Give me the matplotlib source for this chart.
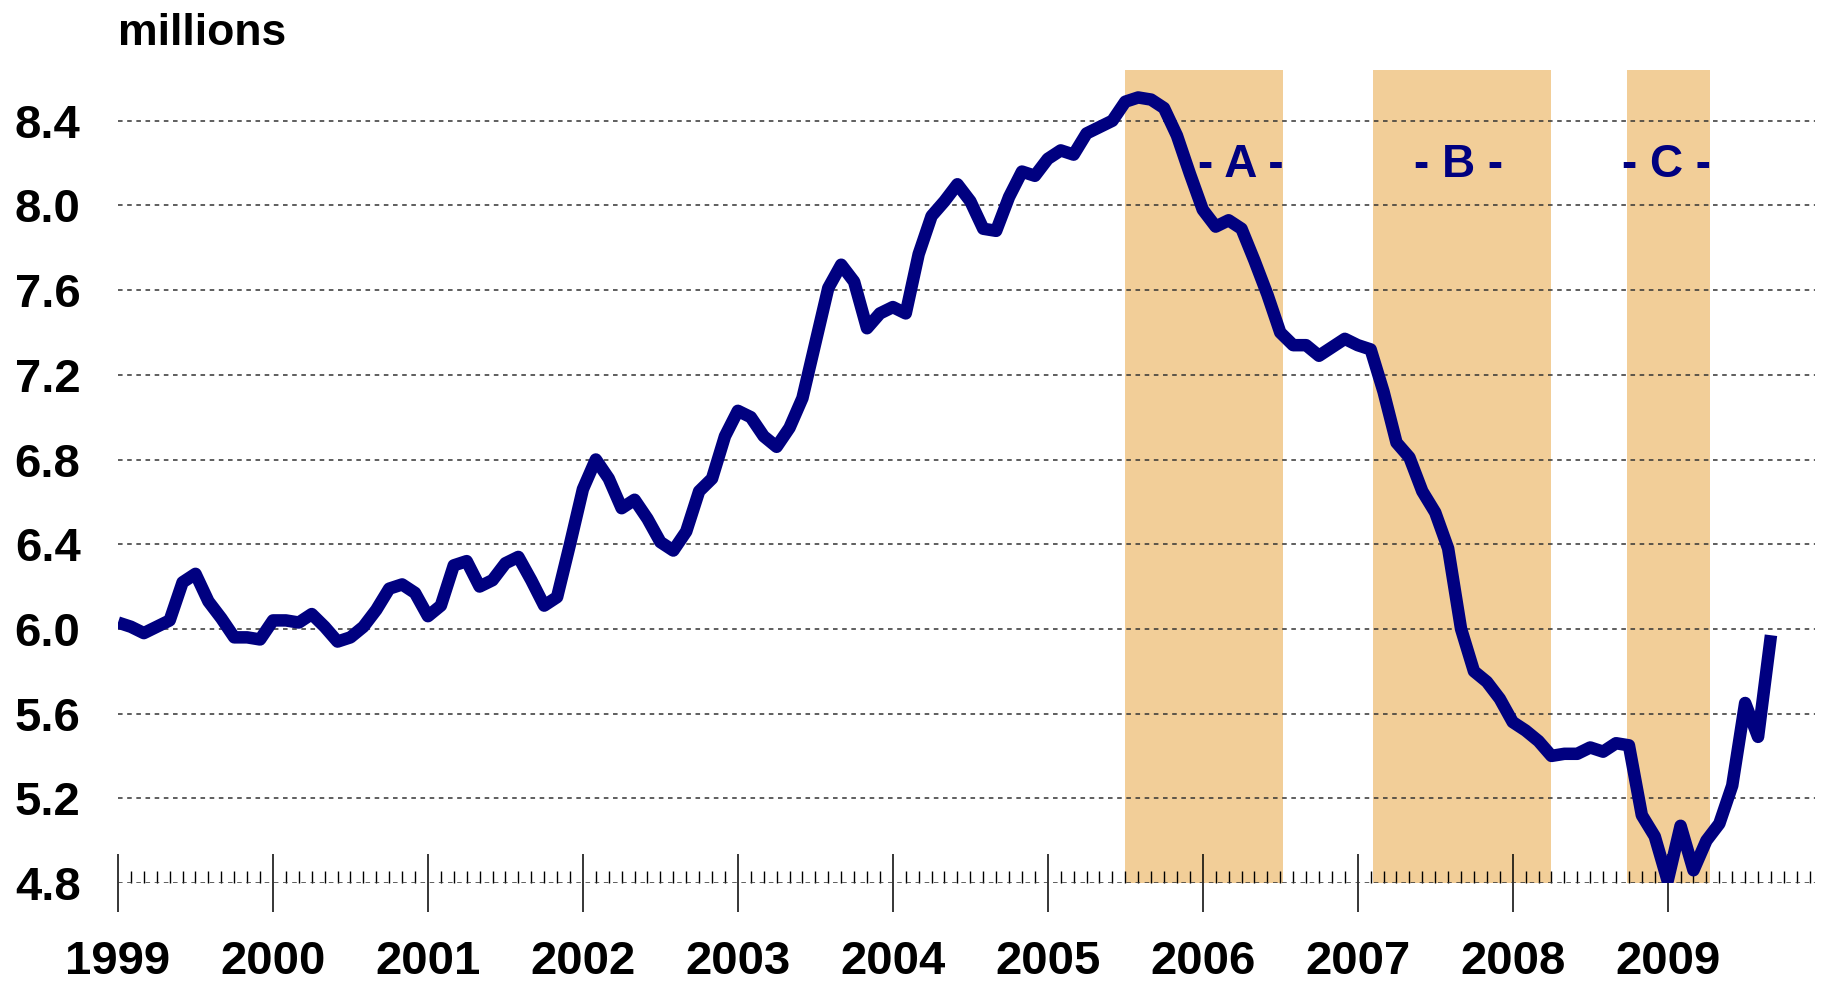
import numpy as np
import matplotlib
matplotlib.use("Agg")
import matplotlib.pyplot as plt
from matplotlib import font_manager
from matplotlib.ticker import FixedLocator, MultipleLocator

# monthly home sales, millions, Jan 1999 .. Sep 2009
sales_1999 = [6.03, 6.01, 5.98, 6.01, 6.04, 6.22, 6.26, 6.13, 6.05, 5.96, 5.96, 5.95]
sales_2000 = [6.04, 6.04, 6.03, 6.07, 6.01, 5.94, 5.96, 6.01, 6.09, 6.19, 6.21, 6.17]
sales_2001 = [6.06, 6.11, 6.30, 6.32, 6.20, 6.23, 6.31, 6.34, 6.23, 6.11, 6.15, 6.40]
sales_2002 = [6.66, 6.80, 6.71, 6.57, 6.61, 6.52, 6.41, 6.37, 6.46, 6.65, 6.71, 6.91]
sales_2003 = [7.03, 7.00, 6.91, 6.86, 6.95, 7.09, 7.35, 7.61, 7.72, 7.64, 7.42, 7.49]
sales_2004 = [7.52, 7.49, 7.77, 7.95, 8.02, 8.10, 8.02, 7.89, 7.88, 8.04, 8.16, 8.14]
sales_2005 = [8.22, 8.26, 8.24, 8.34, 8.37, 8.40, 8.49, 8.51, 8.50, 8.46, 8.33, 8.15]
sales_2006 = [7.98, 7.90, 7.93, 7.89, 7.74, 7.58, 7.40, 7.34, 7.34, 7.29, 7.33, 7.37]
sales_2007 = [7.34, 7.32, 7.12, 6.88, 6.81, 6.65, 6.55, 6.38, 6.00, 5.80, 5.75, 5.67]
sales_2008 = [5.56, 5.52, 5.47, 5.40, 5.41, 5.41, 5.44, 5.42, 5.46, 5.45, 5.12, 5.02]
sales_2009 = [4.81, 5.07, 4.86, 5.00, 5.08, 5.26, 5.65, 5.49, 5.97]

years = list(range(1999, 2010))
y_ticks = [4.8, 5.2, 5.6, 6.0, 6.4, 6.8, 7.2, 7.6, 8.0, 8.4]

period_labels = ["A", "B", "C"]
period_start = [2005.50, 2007.10, 2008.74]
period_end = [2006.52, 2008.25, 2009.27]

sales = (sales_1999 + sales_2000 + sales_2001 + sales_2002 + sales_2003 + sales_2004
         + sales_2005 + sales_2006 + sales_2007 + sales_2008 + sales_2009)
dates = 1999 + np.arange(len(sales)) / 12.0

names = {f.name for f in font_manager.fontManager.ttflist}
if "Liberation Sans Narrow" in names:
    num_font, num_size = "Liberation Sans Narrow", 38
else:
    num_font, num_size = "Liberation Sans", 34

navy = "#000080"
fig = plt.figure(figsize=(18.24, 9.85), dpi=100)
ax = fig.add_axes([0.0647, 0.1036, 0.9303, 0.8254])

for lab, x0, x1 in zip(period_labels, period_start, period_end):
    ax.axvspan(x0, x1, color="#F2CE98", lw=0, zorder=0.2)

# label positions inside the shaded periods
label_x = [2006.245, 2007.65, 2008.99]
for lab, lx in zip(period_labels, label_x):
    ax.text(lx, 8.19, "- %s -" % lab, ha="center", va="center", color=navy,
            fontsize=num_size - 1, fontweight="bold", family=num_font, zorder=3)

ax.plot(dates, sales, color=navy, lw=9, solid_joinstyle="round",
        solid_capstyle="butt", zorder=2)

ax.set_xlim(1999, 2009.95)
ax.set_ylim(4.8, 8.64)

for s in ax.spines.values():
    s.set_visible(False)

ax.set_axisbelow(True)
ax.set_yticks(y_ticks)
ax.set_yticklabels(["%.1f" % v for v in y_ticks])
ax.yaxis.grid(True, linestyle=(0, (3, 3)), color="#333333", lw=1.1)
ax.tick_params(axis="y", length=0, pad=27)

ax.xaxis.set_major_locator(FixedLocator(years))
ax.xaxis.set_minor_locator(MultipleLocator(1 / 12))
ax.set_xticklabels([str(y) for y in years])
ax.tick_params(axis="x", which="major", direction="inout", length=42, width=1.1,
               pad=20, color="black")
ax.tick_params(axis="x", which="minor", direction="in", length=9, width=1.0,
               color="black")

for lbl in ax.get_xticklabels() + ax.get_yticklabels():
    lbl.set_family(num_font)
    lbl.set_fontsize(num_size)
    lbl.set_fontweight("bold")

fig.text(0.0647, 0.954, "millions", ha="left", va="baseline", fontsize=32,
         fontweight="bold", family="Liberation Sans")

fig.savefig("out.png", dpi=100)
